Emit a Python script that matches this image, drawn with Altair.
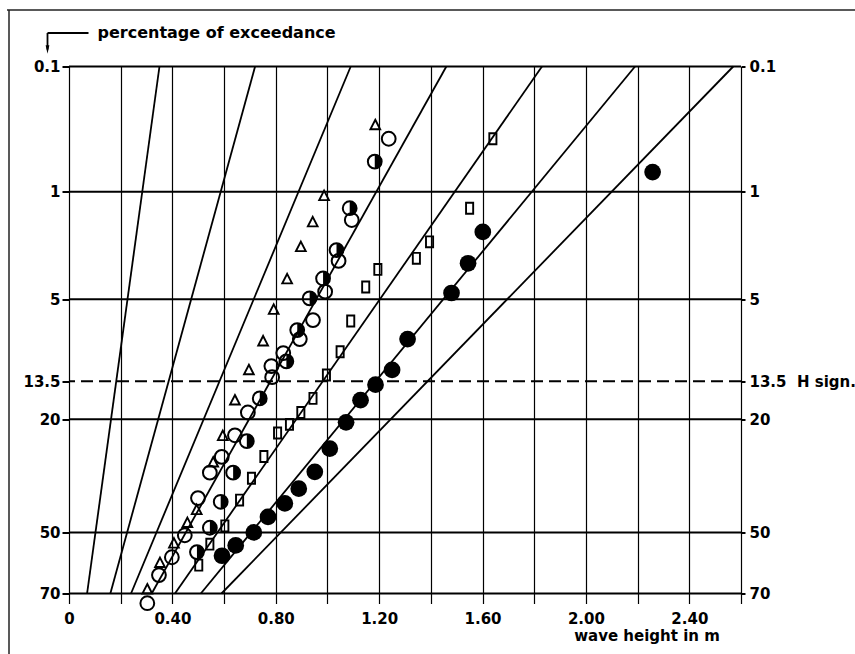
import math
import altair as alt
import pandas as pd

# ---------------- data ----------------
# y axis: percentage of exceedance (Rayleigh probability scale)
y_ticks = [0.1, 1, 5, 13.5, 20, 50, 70]
y_dashed = [13.5]
right_note = "H sign."
# x axis: wave height in m (grid every 0.2 m)
x_grid = [0, 0.2, 0.4, 0.6, 0.8, 1.0, 1.2, 1.4, 1.6, 1.8, 2.0, 2.2, 2.4, 2.6]

# reference straight lines: wave height where each line crosses 0.1 % and 70 %
line_p_top = 0.1
line_p_bottom = 70
line_h_top = [0.35, 0.72, 1.09, 1.46, 1.83, 2.19, 2.57]
line_h_bottom = [0.07, 0.16, 0.24, 0.32, 0.41, 0.51, 0.59]

# open triangles
tri_h = [1.185, 0.987, 0.943, 0.897, 0.844, 0.792, 0.751, 0.696, 0.642, 0.595,
         0.558, 0.494, 0.458, 0.406, 0.352, 0.303]
tri_p = [0.31, 1.07, 1.63, 2.38, 3.79, 5.72, 8.5, 11.9, 16.5, 23.4,
         29.6, 42.9, 46.9, 53.5, 59.9, 68.6]

# open circles
circ_h = [1.237, 1.094, 1.043, 0.991, 0.944, 0.893, 0.829, 0.783, 0.786, 0.692,
          0.642, 0.591, 0.545, 0.499, 0.448, 0.398, 0.348, 0.303]
circ_p = [0.40, 1.58, 2.93, 4.51, 6.55, 8.3, 9.81, 11.4, 12.9, 18.7,
          23.3, 28.3, 32.3, 39.4, 50.9, 58.1, 64.0, 73.1]

# half filled circles
half_h = [1.183, 1.086, 1.035, 0.983, 0.931, 0.883, 0.841, 0.738, 0.688, 0.635,
          0.587, 0.545, 0.495]
half_p = [0.60, 1.31, 2.50, 3.76, 4.93, 7.43, 10.8, 16.2, 24.6, 32.3,
          40.5, 48.5, 56.4]

# open squares
sq_h = [1.640, 1.550, 1.395, 1.344, 1.195, 1.148, 1.090, 1.049, 0.996, 0.944,
        0.897, 0.853, 0.807, 0.754, 0.706, 0.660, 0.603, 0.545, 0.502]
sq_p = [0.40, 1.31, 2.21, 2.82, 3.31, 4.23, 6.63, 9.66, 12.6, 16.2,
        18.7, 21.0, 22.8, 28.2, 33.8, 40.0, 47.9, 53.8, 60.7]

# filled circles
fill_h = [2.258, 1.601, 1.544, 1.480, 1.310, 1.250, 1.186, 1.128, 1.072, 1.009,
          0.951, 0.889, 0.835, 0.770, 0.715, 0.645, 0.592]
fill_p = [0.72, 1.90, 3.03, 4.59, 8.30, 11.9, 14.0, 16.5, 20.6, 26.3,
          32.1, 36.7, 41.0, 45.1, 50.0, 54.2, 57.6]

# ---------------- layout ----------------
W, H = 672, 527
PAD_L, PAD_T = 69, 66.5
FONT = "DejaVu Sans"


def rayleigh(p):
    return math.sqrt(-math.log(p / 100.0))


y_dom = [rayleigh(max(y_ticks)), rayleigh(min(y_ticks))]
y_vals = [rayleigh(v) for v in y_ticks]
x_scale = alt.Scale(domain=[x_grid[0], x_grid[-1]], nice=False, zero=False)
y_scale = alt.Scale(domain=y_dom, nice=False, zero=False)
S_EXPR = "sqrt(-log(datum.p / 100))"

left_axis = alt.Axis(
    values=y_vals, orient="left", grid=False, domain=False,
    tickSize=7, tickColor="black", tickWidth=2,
    labelExpr="format(exp(-datum.value*datum.value)*100, '.3~r')",
    labelFont=FONT, labelFontSize=15, labelFontWeight="bold", labelColor="black",
    labelPadding=2, labelOverlap=False, labelBound=False, labelFlush=False,
    title="percentage of exceedance", titleAngle=0, titleX=28, titleY=-34,
    titleAlign="left", titleBaseline="middle", titleFont=FONT, titleFontSize=16,
    titleFontWeight="bold", titleColor="black",
)

nb = "\u00a0"
right_axis = alt.Axis(
    values=y_vals, orient="right", grid=False, domain=False,
    tickSize=4, tickColor="black", tickWidth=2,
    labelExpr=(
        "abs(exp(-datum.value*datum.value)*100 - " + str(y_dashed[0]) + ") < 0.01 ? '"
        + str(y_dashed[0]) + nb + nb + right_note + "' : "
        "format(exp(-datum.value*datum.value)*100, '.3~r')"
    ),
    labelFont=FONT, labelFontSize=15, labelFontWeight="bold", labelColor="black",
    labelPadding=4, labelOverlap=False, labelBound=False, labelFlush=False,
    title=None,
)

x_axis = alt.Axis(
    values=x_grid, grid=True, gridColor="black", gridWidth=1.2, gridOpacity=1,
    domain=False, ticks=True, tickSize=10, tickColor="black", tickWidth=1.2,
    labelExpr="datum.value == 0 ? '0' : (round(datum.value*10) % 4 == 0 ? format(datum.value, '.2f') : '')",
    labelFont=FONT, labelFontSize=15, labelFontWeight="bold", labelColor="black",
    labelPadding=8, labelOverlap=False, labelBound=False, labelFlush=False,
    title="wave height in m", titleX=577.5, titleY=42, titleAlign="center",
    titleBaseline="middle", titleFont=FONT, titleFontSize=15,
    titleFontWeight="bold", titleColor="black",
)


def base(df):
    return alt.Chart(df).transform_calculate(s=S_EXPR)


def ypos(axis=None):
    return alt.Y("s:Q", scale=y_scale, axis=axis)


def xpos():
    # every layer carries the same x axis definition so the shared axis merges cleanly
    return alt.X("h:Q", scale=x_scale, axis=x_axis)


# horizontal levels
df_levels = pd.DataFrame({"p": y_ticks, "dashed": [v in y_dashed for v in y_ticks]})

solid_rules = base(df_levels).transform_filter("!datum.dashed").mark_rule(
    color="black", strokeWidth=2
).encode(y=ypos(left_axis))

dashed_rules = base(df_levels).transform_filter("datum.dashed").mark_rule(
    color="black", strokeWidth=2, strokeDash=[12, 6]
).encode(y=ypos())

# reference lines
rows = []
for i, (ht, hb) in enumerate(zip(line_h_top, line_h_bottom)):
    rows.append({"id": i, "h": ht, "p": line_p_top})
    rows.append({"id": i, "h": hb, "p": line_p_bottom})
df_lines = pd.DataFrame(rows)

ref_lines = base(df_lines).mark_line(color="black", strokeWidth=1.8).encode(
    x=xpos(), y=ypos(right_axis), detail="id:N"
)

# markers
TRI = "M0,-1L0.95,0.85L-0.95,0.85Z"
SQ = "M-0.65,-1L0.65,-1L0.65,1L-0.65,1Z"
HALF = "M0,-1A1,1,0,0,1,0,1Z"

tri = base(pd.DataFrame({"h": tri_h, "p": tri_p})).mark_point(
    shape=TRI, size=105, filled=False, color="black", strokeWidth=1.9, opacity=1
).encode(x=xpos(), y=ypos())

sq = base(pd.DataFrame({"h": sq_h, "p": sq_p})).mark_point(
    shape=SQ, size=120, filled=False, color="black", strokeWidth=1.9, opacity=1
).encode(x=xpos(), y=ypos())

circ = base(pd.DataFrame({"h": circ_h, "p": circ_p})).mark_point(
    shape="circle", size=190, filled=False, color="black", strokeWidth=2, opacity=1
).encode(x=xpos(), y=ypos())

half_outline = base(pd.DataFrame({"h": half_h, "p": half_p})).mark_point(
    shape="circle", size=190, filled=False, color="black", strokeWidth=2, opacity=1
).encode(x=xpos(), y=ypos())

half_fill = base(pd.DataFrame({"h": half_h, "p": half_p})).mark_point(
    shape=HALF, size=190, filled=True, color="black", opacity=1
).encode(x=xpos(), y=ypos())

filled = base(pd.DataFrame({"h": fill_h, "p": fill_p})).mark_point(
    shape="circle", size=280, filled=True, color="black", opacity=1
).encode(x=xpos(), y=ypos())

# decorations: page frame and the little arrow next to the y title
one = pd.DataFrame({"k": [0]})
frame_top = alt.Chart(one).mark_rule(color="#222", strokeWidth=1.5).encode(
    x=alt.value(-62), x2=alt.value(786), y=alt.value(-56.5)
)
frame_left = alt.Chart(one).mark_rule(color="#222", strokeWidth=1.5).encode(
    x=alt.value(-60), y=alt.value(-56.5), y2=alt.value(588)
)
arrow_h = alt.Chart(one).mark_rule(color="black", strokeWidth=1.8).encode(
    x=alt.value(-21.5), x2=alt.value(19.5), y=alt.value(-33.5)
)
arrow_v = alt.Chart(one).mark_rule(color="black", strokeWidth=1.8).encode(
    x=alt.value(-21.5), y=alt.value(-33.5), y2=alt.value(-17)
)
arrow_head = alt.Chart(one).mark_point(
    shape="M-0.45,-1L0.45,-1L0,1Z", size=70, filled=True, color="black", opacity=1
).encode(x=alt.value(-21.5), y=alt.value(-17))

chart = alt.layer(
    solid_rules, dashed_rules, ref_lines,
    tri, sq, circ, half_outline, half_fill, filled,
    frame_top, frame_left, arrow_h, arrow_v, arrow_head,
).resolve_scale(y="independent").properties(
    width=W, height=H,
    padding={"left": PAD_L, "top": PAD_T, "right": 855 - PAD_L - W, "bottom": 654 - PAD_T - H},
    autosize=alt.AutoSizeParams(type="none"),
    background="white",
).configure_view(stroke=None)

chart.save("out.html", embed_options={"renderer": "svg", "actions": False})
